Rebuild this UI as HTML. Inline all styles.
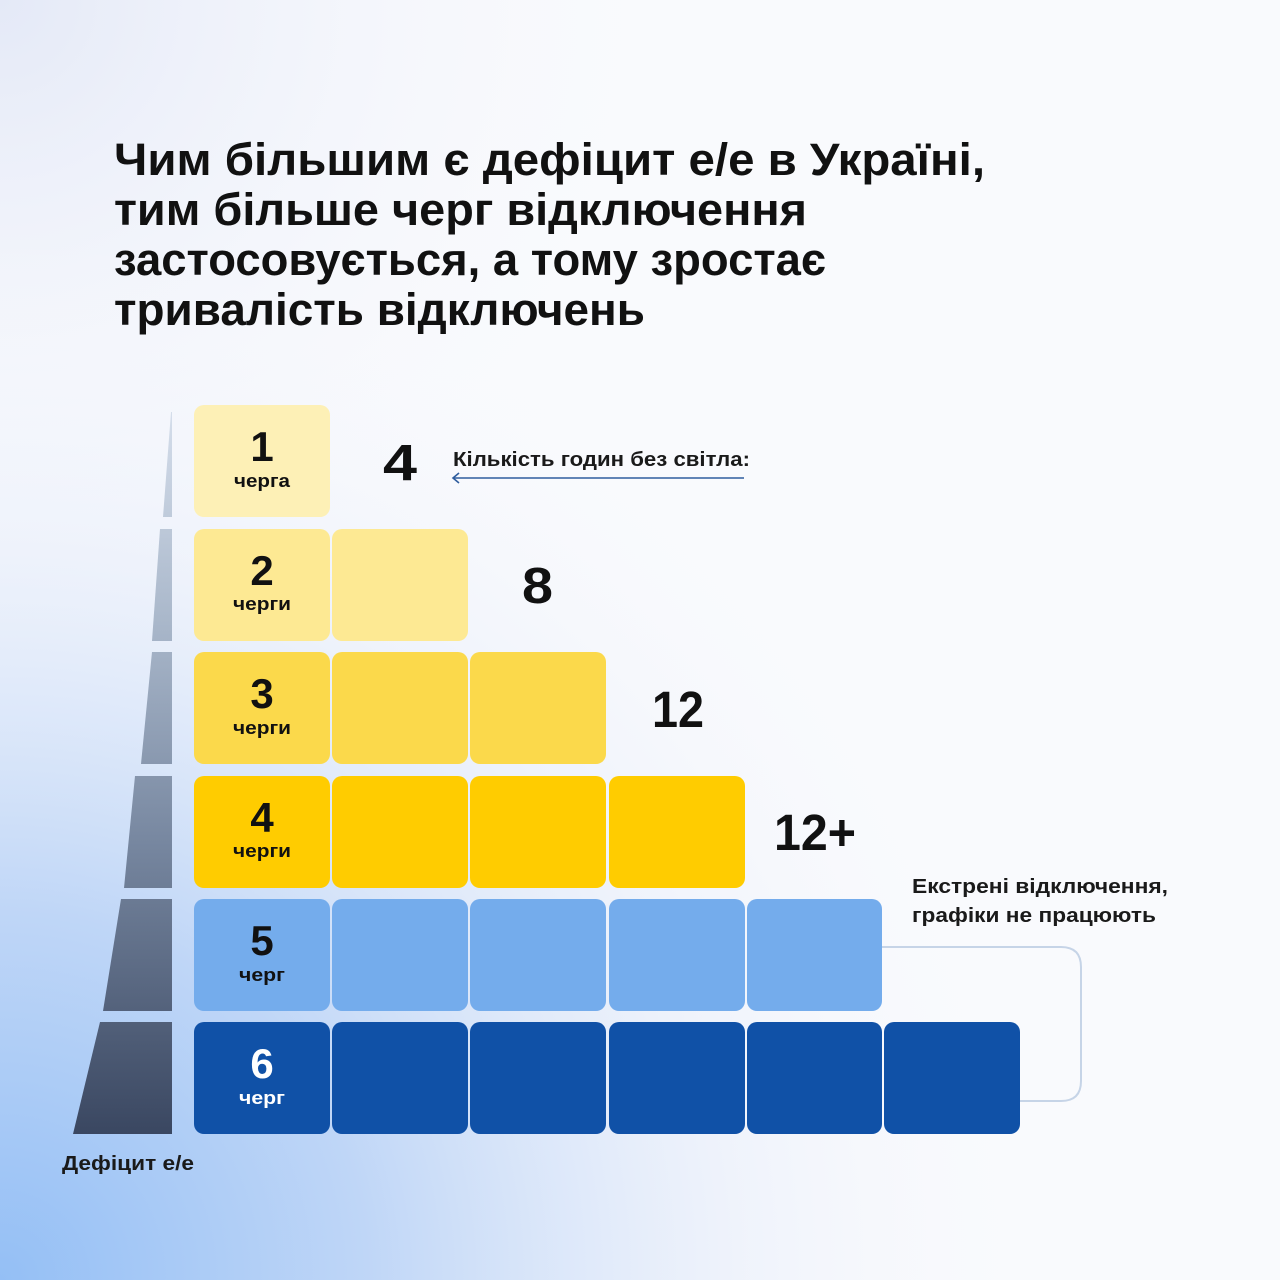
<!DOCTYPE html>
<html><head><meta charset="utf-8"><style>
html,body{margin:0;padding:0;width:1280px;height:1280px;overflow:hidden;background:#f9fafd}
svg{display:block}
text{font-family:"Liberation Sans","DejaVu Sans",sans-serif;font-weight:bold;fill:#111}
</style></head><body>
<svg width="1280" height="1280" viewBox="0 0 1280 1280" xmlns="http://www.w3.org/2000/svg">
<defs>
<radialGradient id="bg1" cx="0" cy="1280" r="1050" gradientUnits="userSpaceOnUse">
<stop offset="0" stop-color="#94bff5"/>
<stop offset="0.35" stop-color="#bfd6f7"/>
<stop offset="0.7" stop-color="#e8eefa" stop-opacity="0.6"/>
<stop offset="1" stop-color="#f9fafd" stop-opacity="0"/>
</radialGradient>
<radialGradient id="bg2" cx="0" cy="0" r="700" gradientUnits="userSpaceOnUse">
<stop offset="0" stop-color="#e4e9f7"/>
<stop offset="1" stop-color="#f9fafd" stop-opacity="0"/>
</radialGradient>
<linearGradient id="wedge" x1="0" y1="405" x2="0" y2="1134" gradientUnits="userSpaceOnUse">
<stop offset="0" stop-color="#d6dfec"/>
<stop offset="0.3" stop-color="#a9b7ca"/>
<stop offset="0.6" stop-color="#7787a0"/>
<stop offset="1" stop-color="#3a4761"/>
</linearGradient>
</defs>
<rect width="1280" height="1280" fill="#f9fafd"/>
<rect width="1280" height="1280" fill="url(#bg2)"/>
<rect width="1280" height="1280" fill="url(#bg1)"/>

<!-- title -->
<text x="114" y="175" font-size="45" textLength="871" lengthAdjust="spacingAndGlyphs">Чим більшим є дефіцит е/е в Україні,</text>
<text x="114" y="225" font-size="45" textLength="693" lengthAdjust="spacingAndGlyphs">тим більше черг відключення</text>
<text x="114" y="275" font-size="45" textLength="712" lengthAdjust="spacingAndGlyphs">застосовується, а тому зростає</text>
<text x="114" y="325" font-size="45" textLength="531" lengthAdjust="spacingAndGlyphs">тривалість відключень</text>

<!-- wedge -->
<g fill="url(#wedge)">
<polygon points="171,412 172,412 172,517 163,517"/>
<polygon points="160,529 172,529 172,641 152,641"/>
<polygon points="152,652 172,652 172,764 141,764"/>
<polygon points="135,776 172,776 172,888 124,888"/>
<polygon points="121,899 172,899 172,1011 103,1011"/>
<polygon points="100,1022 172,1022 172,1134 73,1134"/>
</g>

<!-- cells -->
<g>
<rect x="194" y="405" width="136" height="112" rx="10" fill="#fdf0b6"/>

<rect x="194" y="529" width="136" height="112" rx="10" fill="#fde993"/>
<rect x="332" y="529" width="136" height="112" rx="10" fill="#fde993"/>

<rect x="194" y="652" width="136" height="112" rx="10" fill="#fbd94b"/>
<rect x="332" y="652" width="136" height="112" rx="10" fill="#fbd94b"/>
<rect x="470" y="652" width="136" height="112" rx="10" fill="#fbd94b"/>

<rect x="194" y="776" width="136" height="112" rx="10" fill="#ffcc00"/>
<rect x="332" y="776" width="136" height="112" rx="10" fill="#ffcc00"/>
<rect x="470" y="776" width="136" height="112" rx="10" fill="#ffcc00"/>
<rect x="609" y="776" width="136" height="112" rx="10" fill="#ffcc00"/>

<rect x="194" y="899" width="136" height="112" rx="10" fill="#74acec"/>
<rect x="332" y="899" width="136" height="112" rx="10" fill="#74acec"/>
<rect x="470" y="899" width="136" height="112" rx="10" fill="#74acec"/>
<rect x="609" y="899" width="136" height="112" rx="10" fill="#74acec"/>
<rect x="747" y="899" width="135" height="112" rx="10" fill="#74acec"/>

<rect x="194" y="1022" width="136" height="112" rx="10" fill="#1051a7"/>
<rect x="332" y="1022" width="136" height="112" rx="10" fill="#1051a7"/>
<rect x="470" y="1022" width="136" height="112" rx="10" fill="#1051a7"/>
<rect x="609" y="1022" width="136" height="112" rx="10" fill="#1051a7"/>
<rect x="747" y="1022" width="135" height="112" rx="10" fill="#1051a7"/>
<rect x="884" y="1022" width="136" height="112" rx="10" fill="#1051a7"/>
</g>

<!-- cell labels -->
<g text-anchor="middle">
<text x="262" y="461" font-size="42">1</text>
<text x="262" y="487" font-size="18" textLength="56" lengthAdjust="spacingAndGlyphs">черга</text>
<text x="262" y="585" font-size="42">2</text>
<text x="262" y="610" font-size="18" textLength="58" lengthAdjust="spacingAndGlyphs">черги</text>
<text x="262" y="708" font-size="42">3</text>
<text x="262" y="734" font-size="18" textLength="58" lengthAdjust="spacingAndGlyphs">черги</text>
<text x="262" y="832" font-size="42">4</text>
<text x="262" y="857" font-size="18" textLength="58" lengthAdjust="spacingAndGlyphs">черги</text>
<text x="262" y="955" font-size="42">5</text>
<text x="262" y="981" font-size="18" textLength="46" lengthAdjust="spacingAndGlyphs">черг</text>
<text x="262" y="1078" font-size="42" style="fill:#fff">6</text>
<text x="262" y="1104" font-size="18" textLength="46" lengthAdjust="spacingAndGlyphs" style="fill:#fff">черг</text>
</g>

<!-- hour numbers -->
<text x="383" y="480" font-size="51" textLength="34" lengthAdjust="spacingAndGlyphs">4</text>
<text x="522" y="603" font-size="51" textLength="31" lengthAdjust="spacingAndGlyphs">8</text>
<text x="652" y="727" font-size="51" textLength="52" lengthAdjust="spacingAndGlyphs">12</text>
<text x="774" y="850" font-size="51" textLength="82" lengthAdjust="spacingAndGlyphs">12+</text>

<!-- legend arrow -->
<text x="453" y="466" font-size="20" textLength="297" lengthAdjust="spacingAndGlyphs" style="fill:#1a1a1a">Кількість годин без світла:</text>
<line x1="453" y1="478" x2="744" y2="478" stroke="#2f5d9e" stroke-width="1.6"/>
<polyline points="459,473 453,478 459,483" fill="none" stroke="#2f5d9e" stroke-width="1.6"/>

<!-- emergency note -->
<text x="912" y="893" font-size="20" textLength="256" lengthAdjust="spacingAndGlyphs" style="fill:#1a1a1a">Екстрені відключення,</text>
<text x="912" y="922" font-size="20" textLength="244" lengthAdjust="spacingAndGlyphs" style="fill:#1a1a1a">графіки не працюють</text>
<path d="M882 947 H1061 Q1081 947 1081 967 V1081 Q1081 1101 1061 1101 H1020" fill="none" stroke="#c6d4e7" stroke-width="2"/>

<!-- axis label -->
<text x="62" y="1170" font-size="20" textLength="132" lengthAdjust="spacingAndGlyphs" style="fill:#1a1a1a">Дефіцит е/е</text>
</svg>
</body></html>
